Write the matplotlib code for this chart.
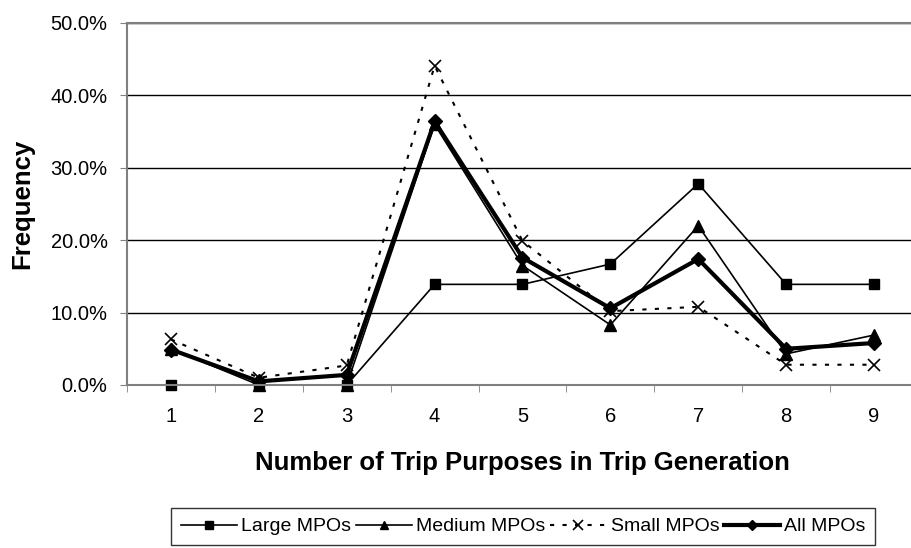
import numpy as np
import matplotlib
matplotlib.use('Agg')
import matplotlib.pyplot as plt
from matplotlib.ticker import PercentFormatter

plt.rcParams['font.family'] = ['Liberation Sans', 'DejaVu Sans']

purposes = [1, 2, 3, 4, 5, 6, 7, 8, 9]
large = [0.0, 0.0, 0.0, 13.9, 13.9, 16.7, 27.8, 13.9, 13.9]
medium = [5.0, 0.0, 0.0, 36.0, 16.5, 8.3, 22.0, 4.3, 6.9]
small = [6.3, 1.0, 2.7, 44.1, 19.9, 10.2, 10.8, 2.8, 2.8]
all_mpos = [4.9, 0.5, 1.4, 36.4, 17.6, 10.6, 17.4, 5.0, 5.8]

fig = plt.figure(figsize=(9.11, 5.48), dpi=100)
ax = fig.add_axes([127/911, 1-385/548, (918-127)/911, (385-23)/548])

ax.plot(purposes, large, color='black', lw=1.2, marker='s', ms=7, clip_on=False, label='Large MPOs')
ax.plot(purposes, medium, color='black', lw=1.2, marker='^', ms=8, clip_on=False, label='Medium MPOs')
ax.plot(purposes, small, color='black', lw=1.5, ls=(0, (2, 4)), marker='x', ms=9,
        mew=1.2, clip_on=False, label='Small MPOs')
ax.plot(purposes, all_mpos, color='black', lw=3, marker='D', ms=7, clip_on=False, label='All MPOs')

ax.set_xlim(0.5, 9.5)
ax.set_ylim(0, 50)
ax.set_yticks(np.arange(0, 51, 10))
ax.yaxis.set_major_formatter(PercentFormatter(decimals=1))
ax.set_xticks(purposes)
ax.set_xticks(np.arange(0.5, 9.6, 1), minor=True)
ax.tick_params(axis='x', which='major', length=0, pad=16, labelsize=14.5)
ax.tick_params(axis='x', which='minor', length=5, color='#808080', direction='out')
ax.tick_params(axis='y', length=5, color='#808080', labelsize=14.5, pad=9)
ax.grid(axis='y', color='black', lw=1)
ax.set_axisbelow(True)
for side in ['left', 'bottom', 'top']:
    ax.spines[side].set_color('#808080')
    ax.spines[side].set_linewidth(1.5)
ax.spines['right'].set_visible(False)

ax.set_xlabel('Number of Trip Purposes in Trip Generation', fontsize=18.5,
              fontweight='bold', labelpad=18)
ax.set_ylabel('Frequency', fontsize=18.5, fontweight='bold', labelpad=12)

leg = fig.legend(loc='upper left', bbox_to_anchor=(171/911, 1-508/548), ncol=4,
                 frameon=True, fancybox=False, edgecolor='black', fontsize=14,
                 handlelength=2.9, handletextpad=0.2, columnspacing=0.25,
                 borderpad=0.5, borderaxespad=0, markerscale=0.8)
leg.get_frame().set_linewidth(1)

fig.savefig('out.png', dpi=100)
